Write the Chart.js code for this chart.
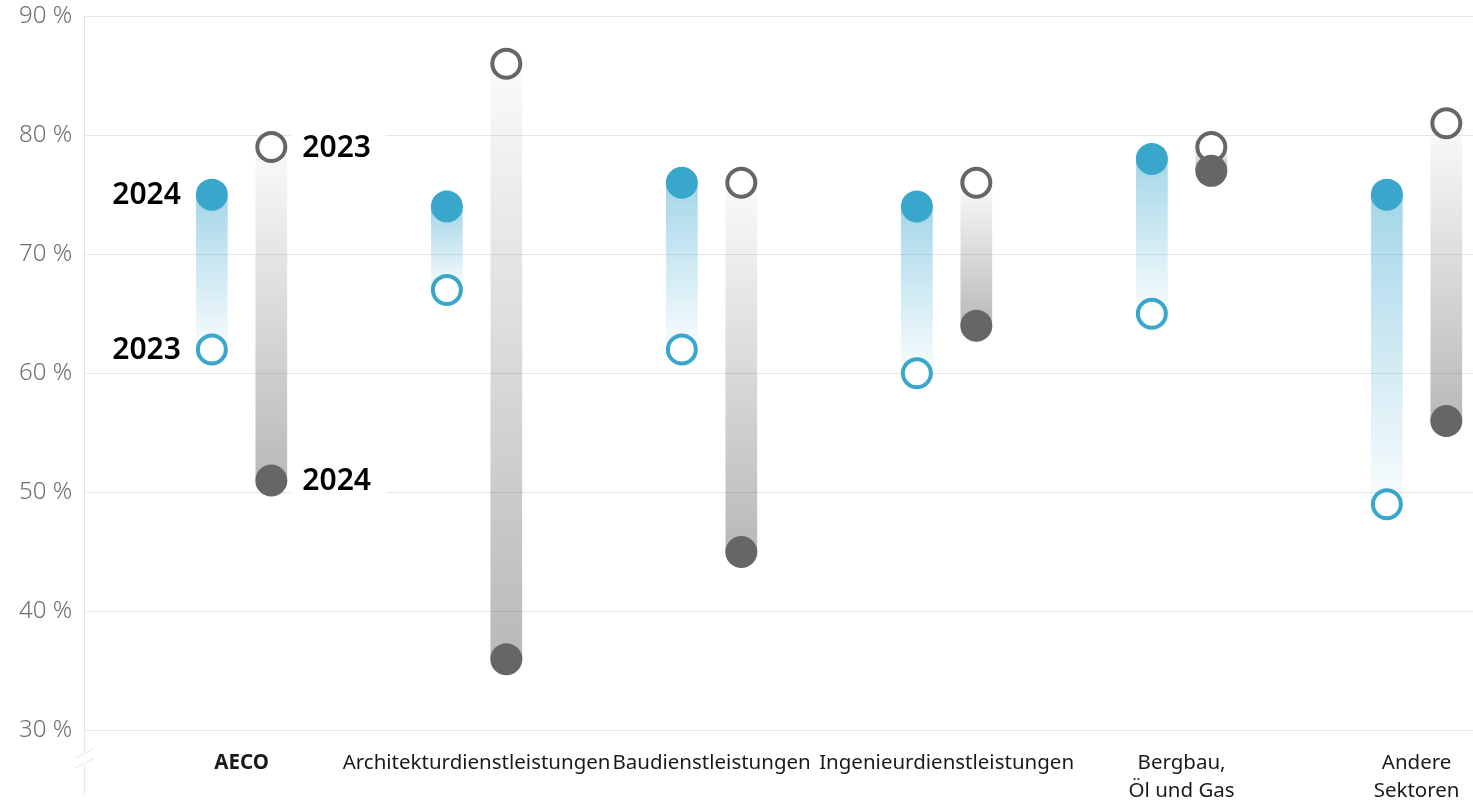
<!DOCTYPE html>
<html>
<head>
<meta charset="utf-8">
<script src="https://cdn.jsdelivr.net/npm/chart.js@4"></script>
<style>
  html, body { margin: 0; padding: 0; background: #fff; }
  #wrap { width: 1473px; height: 800px; }
</style>
</head>
<body>
<div id="wrap"><canvas id="chart"></canvas></div>
<script>
// Data
const categories = ['AECO', 'Architekturdienstleistungen', 'Baudienstleistungen', 'Ingenieurdienstleistungen', ['Bergbau,', 'Öl und Gas'], ['Andere', 'Sektoren']];
const blue2023 = [62, 67, 62, 60, 65, 49];
const blue2024 = [75, 74, 76, 74, 78, 75];
const gray2023 = [79, 86, 76, 76, 79, 81];
const gray2024 = [51, 36, 45, 64, 77, 56];
const yearLabels = ['2023', '2024'];
const yTickValues = [30, 40, 50, 60, 70, 80, 90];

const BLUE = '57, 166, 204';
const GRAY = '102, 102, 102';
const FONT = "'Noto Sans', sans-serif";

// gradient from the 2023 end (pale) to the 2024 end (strong)
function barGradient(rgb, from, to) {
  return function(context) {
    const chart = context.chart;
    if (!chart.chartArea || context.dataIndex === undefined) return 'rgba(' + rgb + ',0.2)';
    const y = chart.scales.y;
    const i = context.dataIndex;
    const y0 = y.getPixelForValue(from[i]);
    const y1 = y.getPixelForValue(to[i]);
    if (Math.abs(y1 - y0) < 1) return 'rgba(' + rgb + ',0.25)';
    const g = chart.ctx.createLinearGradient(0, y0, 0, y1);
    g.addColorStop(0, 'rgba(' + rgb + ',0.03)');
    g.addColorStop(1, 'rgba(' + rgb + ',0.46)');
    return g;
  };
}

// circles for both years, plus the year labels at AECO
const dotsPlugin = {
  id: 'dots',
  afterDatasetsDraw(chart) {
    const ctx = chart.ctx;
    const y = chart.scales.y;
    const sets = [[blue2023, blue2024, BLUE], [gray2023, gray2024, GRAY]];
    sets.forEach(function(s, d) {
      const meta = chart.getDatasetMeta(d);
      meta.data.forEach(function(bar, j) {
        const x = bar.x;
        const yOpen = y.getPixelForValue(s[0][j]);
        const yFull = y.getPixelForValue(s[1][j]);
        ctx.save();
        ctx.beginPath();
        ctx.arc(x, yOpen, 14, 0, Math.PI * 2);
        ctx.fillStyle = '#fff';
        ctx.fill();
        ctx.lineWidth = 4;
        ctx.strokeStyle = 'rgb(' + s[2] + ')';
        ctx.stroke();
        ctx.beginPath();
        ctx.arc(x, yFull, 16, 0, Math.PI * 2);
        ctx.fillStyle = 'rgb(' + s[2] + ')';
        ctx.fill();
        ctx.restore();
      });
    });

    // year labels next to the first category
    ctx.save();
    ctx.font = '600 30px ' + FONT;
    ctx.textBaseline = 'middle';
    ctx.fillStyle = '#000';
    const bx = chart.getDatasetMeta(0).data[0].x;
    const gx = chart.getDatasetMeta(1).data[0].x;
    ctx.textAlign = 'right';
    ctx.fillText(yearLabels[1], bx - 31, y.getPixelForValue(blue2024[0]) + 1);
    ctx.fillText(yearLabels[0], bx - 31, y.getPixelForValue(blue2023[0]) + 1);
    ctx.textAlign = 'left';
    [[yearLabels[0], gray2023[0]], [yearLabels[1], gray2024[0]]].forEach(function(t) {
      const ty = y.getPixelForValue(t[1]);
      const w = ctx.measureText(t[0]).width;
      ctx.fillStyle = '#fff';
      ctx.fillRect(gx + 20, ty - 16, w + 26, 32);
      ctx.fillStyle = '#000';
      ctx.fillText(t[0], gx + 31, ty + 1);
    });
    ctx.restore();
  },
  afterDraw(chart) {
    // y axis continues below the plot with a break mark
    const ctx = chart.ctx;
    const left = chart.chartArea.left;
    const bottom = chart.chartArea.bottom;
    ctx.save();
    ctx.strokeStyle = '#e3e3e3';
    ctx.lineWidth = 1;
    ctx.beginPath();
    ctx.moveTo(left + 0.5, bottom);
    ctx.lineTo(left + 0.5, 752);
    ctx.moveTo(left + 0.5, 765);
    ctx.lineTo(left + 0.5, 794);
    ctx.moveTo(left - 9, 758);
    ctx.lineTo(left + 9, 749);
    ctx.moveTo(left - 9, 768);
    ctx.lineTo(left + 9, 759);
    ctx.stroke();
    ctx.restore();
  }
};

const canvas = document.getElementById('chart');

const chart = new Chart(canvas, {
  type: 'bar',
  data: {
    datasets: [{
      label: 'Blau',
      data: categories.map((c, i) => ({ x: i, y: [blue2023[i], blue2024[i]] })),
      backgroundColor: barGradient(BLUE, blue2023, blue2024),
      borderWidth: 0
    }, {
      label: 'Grau',
      data: categories.map((c, i) => ({ x: i, y: [gray2023[i], gray2024[i]] })),
      backgroundColor: barGradient(GRAY, gray2023, gray2024),
      borderWidth: 0
    }]
  },
  options: {
    responsive: true,
    maintainAspectRatio: false,
    animation: false,
    categoryPercentage: 0.506,
    barPercentage: 0.533,
    layout: { padding: { top: 0, left: 7, right: 0, bottom: -16 } },
    plugins: {
      legend: { display: false },
      tooltip: { enabled: false }
    },
    scales: {
      x: {
        type: 'linear',
        offset: false,
        min: -0.67,
        max: 5.24,
        afterBuildTicks: function(scale) {
          scale.ticks = categories.map((c, i) => ({ value: i }));
        },
        grid: { display: false },
        border: { display: false },
        ticks: {
          autoSkip: false,
          maxRotation: 0,
          padding: 10,
          color: '#1a1a1a',
          font: function(context) {
            return { family: FONT, size: 20.5, lineHeight: 1.4, weight: context.index === 0 ? 'bold' : 'normal' };
          },
          callback: function(value) {
            return categories[value];
          }
        }
      },
      y: {
        min: 30,
        max: 90,
        afterBuildTicks: function(scale) {
          scale.ticks = yTickValues.map(v => ({ value: v }));
        },
        afterFit: function(scale) {
          // keep the top label close to the edge
          scale.paddingTop = 16;
        },
        grid: { color: '#e6e6e6', drawTicks: false },
        border: { color: '#e3e3e3' },
        ticks: {
          padding: 12,
          color: '#6e6e6e',
          font: { family: FONT, size: 24, weight: 300 },
          callback: function(value) {
            return value + ' %';
          }
        }
      }
    }
  },
  plugins: [dotsPlugin]
});
</script>
</body>
</html>
